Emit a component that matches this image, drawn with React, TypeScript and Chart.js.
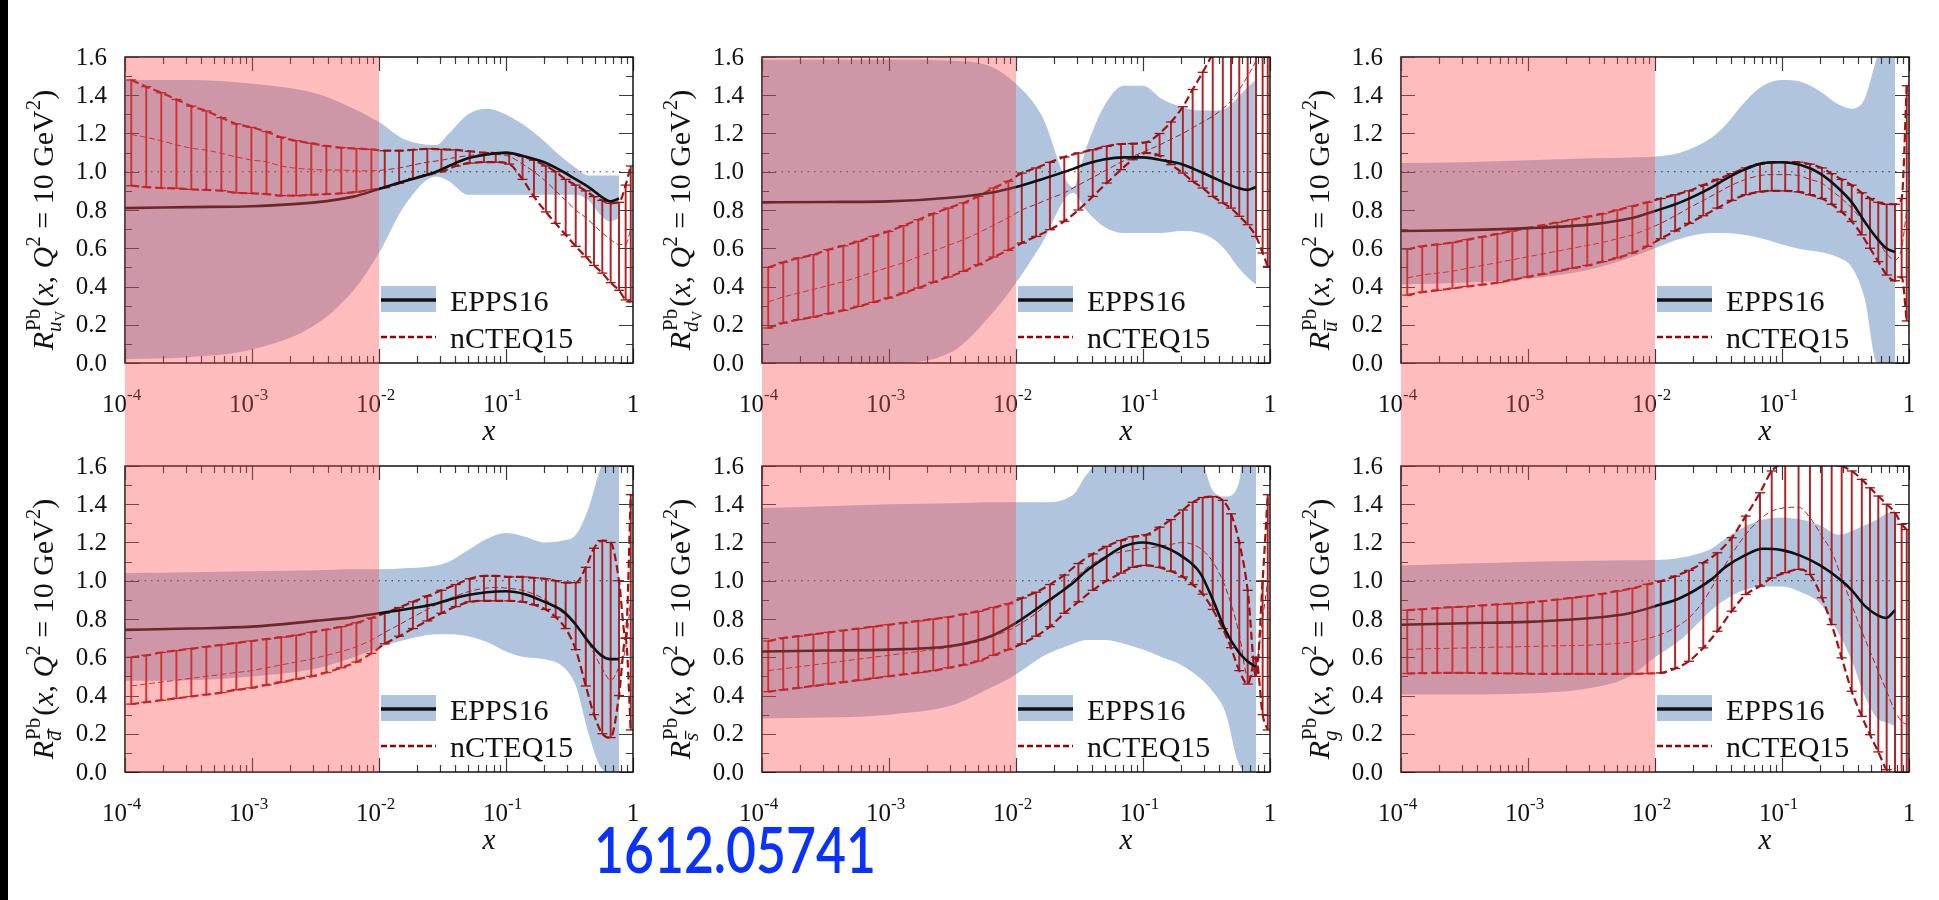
import React, { useEffect, useRef } from "react";
import { Chart, registerables } from "chart.js";
Chart.register(...registerables);

// ---------- x grids ----------
const hatchX = [1.12e-4, 1.47e-4, 1.93e-4, 2.54e-4, 3.33e-4, 4.37e-4, 5.74e-4, 7.53e-4, 9.89e-4, 1.3e-3, 1.7e-3, 2.23e-3, 2.93e-3, 3.85e-3, 5.05e-3, 6.64e-3, 8.71e-3, 0.0111, 0.0144, 0.0185, 0.024, 0.031, 0.0402, 0.0518, 0.0671, 0.083, 0.106, 0.135, 0.166, 0.206, 0.246, 0.295, 0.354, 0.425, 0.493, 0.573, 0.667, 0.776, 0.875, 0.96];
const eppsX = [1e-4, 3.16e-4, 1e-3, 3.16e-3, 6.31e-3, 0.01, 0.0158, 0.0282, 0.0355, 0.0501, 0.0708, 0.1, 0.141, 0.2, 0.282, 0.355, 0.447, 0.562, 0.661, 0.776];
const unityX = [1e-4, 0.8];
const unityY = [1, 1];
const yTickValues = [0, 0.2, 0.4, 0.6, 0.8, 1.0, 1.2, 1.4, 1.6];
const xDecades = [-4, -3, -2, -1, 0];

// ---------- panel 1: u_V ----------
const uvEppsHi = [1.48, 1.48, 1.46, 1.41, 1.33, 1.26, 1.17, 1.14, 1.2, 1.3, 1.33, 1.3, 1.24, 1.16, 1.07, 1.02, 0.98, 0.98, 0.98, 0.98];
const uvEppsLo = [0.02, 0.03, 0.07, 0.2, 0.38, 0.575, 0.82, 0.975, 0.95, 0.88, 0.88, 0.88, 0.88, 0.88, 0.88, 0.88, 0.85, 0.77, 0.74, 0.76];
const uvEppsMid = [0.81, 0.815, 0.82, 0.84, 0.87, 0.91, 0.95, 1.0, 1.03, 1.07, 1.09, 1.1, 1.08, 1.05, 1.0, 0.96, 0.92, 0.87, 0.845, 0.86];
const uvNcHi = [1.48, 1.445, 1.413, 1.378, 1.343, 1.318, 1.283, 1.25, 1.232, 1.21, 1.18, 1.162, 1.149, 1.135, 1.126, 1.121, 1.117, 1.11, 1.11, 1.115, 1.12, 1.117, 1.114, 1.107, 1.1, 1.098, 1.095, 1.08, 1.06, 1.03, 1.0, 0.96, 0.93, 0.9, 0.87, 0.85, 0.835, 0.84, 0.93, 1.03];
const uvNcLo = [0.927, 0.92, 0.915, 0.913, 0.908, 0.905, 0.901, 0.89, 0.887, 0.883, 0.875, 0.875, 0.879, 0.883, 0.887, 0.894, 0.905, 0.917, 0.94, 0.965, 0.985, 1.0, 1.03, 1.045, 1.05, 1.05, 1.04, 0.96, 0.87, 0.79, 0.73, 0.67, 0.61, 0.555, 0.51, 0.47, 0.42, 0.38, 0.33, 0.32];
const uvNcMid = [1.195, 1.18, 1.162, 1.141, 1.123, 1.113, 1.096, 1.078, 1.061, 1.052, 1.03, 1.018, 1.013, 1.009, 1.009, 1.005, 1.005, 1.01, 1.02, 1.035, 1.05, 1.06, 1.075, 1.085, 1.09, 1.09, 1.08, 1.04, 1.0, 0.95, 0.9, 0.85, 0.8, 0.76, 0.72, 0.68, 0.645, 0.62, 0.62, 0.7];

// ---------- panel 2: d_V ----------
const dvEppsHi = [1.585, 1.585, 1.585, 1.58, 1.55, 1.46, 1.3, 0.92, 1.12, 1.35, 1.45, 1.45, 1.38, 1.34, 1.32, 1.32, 1.33, 1.39, 1.44, 1.48];
const dvEppsLo = [0, 0, 0, 0.06, 0.25, 0.42, 0.62, 0.89, 0.8, 0.71, 0.68, 0.68, 0.68, 0.69, 0.68, 0.65, 0.59, 0.5, 0.45, 0.41];
const dvEppsMid = [0.84, 0.842, 0.845, 0.865, 0.89, 0.92, 0.96, 1.015, 1.04, 1.065, 1.075, 1.075, 1.06, 1.04, 1.0, 0.97, 0.94, 0.915, 0.905, 0.92];
const dvNcHi = [0.5, 0.526, 0.549, 0.566, 0.593, 0.613, 0.636, 0.662, 0.688, 0.718, 0.749, 0.781, 0.81, 0.837, 0.871, 0.915, 0.95, 0.993, 1.02, 1.049, 1.077, 1.098, 1.115, 1.133, 1.145, 1.147, 1.154, 1.2, 1.26, 1.34, 1.43, 1.52, 1.62, 1.75, 1.9, 2.1, 2.3, 2.5, 2.7, 2.8];
const dvNcLo = [0.183, 0.209, 0.227, 0.24, 0.258, 0.275, 0.296, 0.317, 0.34, 0.366, 0.392, 0.422, 0.45, 0.479, 0.514, 0.554, 0.589, 0.627, 0.662, 0.697, 0.741, 0.8, 0.871, 0.941, 1.011, 1.063, 1.098, 1.084, 1.037, 0.993, 0.95, 0.915, 0.871, 0.837, 0.81, 0.767, 0.723, 0.662, 0.575, 0.505];
const dvNcMid = [0.32, 0.345, 0.365, 0.385, 0.405, 0.425, 0.45, 0.475, 0.5, 0.525, 0.555, 0.585, 0.615, 0.645, 0.68, 0.72, 0.76, 0.8, 0.83, 0.86, 0.89, 0.93, 0.97, 1.01, 1.05, 1.08, 1.11, 1.14, 1.17, 1.2, 1.23, 1.26, 1.29, 1.33, 1.37, 1.43, 1.5, 1.58, 1.66, 1.75];

// ---------- panel 3: u-bar ----------
const ubEppsHi = [1.046, 1.05, 1.06, 1.07, 1.075, 1.08, 1.1, 1.18, 1.24, 1.36, 1.45, 1.48, 1.47, 1.42, 1.35, 1.33, 1.38, 1.6, 1.7, 1.75];
const ubEppsLo = [0.41, 0.42, 0.44, 0.49, 0.55, 0.6, 0.65, 0.68, 0.68, 0.67, 0.65, 0.62, 0.595, 0.58, 0.55, 0.5, 0.34, 0.0, 0.0, 0.0];
const ubEppsMid = [0.69, 0.695, 0.705, 0.725, 0.755, 0.795, 0.84, 0.92, 0.96, 1.01, 1.045, 1.05, 1.035, 0.99, 0.91, 0.84, 0.74, 0.65, 0.6, 0.58];
const ubNcHi = [0.595, 0.61, 0.62, 0.63, 0.645, 0.66, 0.675, 0.69, 0.705, 0.72, 0.735, 0.75, 0.765, 0.78, 0.8, 0.82, 0.84, 0.86, 0.88, 0.9, 0.93, 0.96, 0.99, 1.02, 1.04, 1.05, 1.05, 1.05, 1.04, 1.02, 0.99, 0.96, 0.93, 0.89, 0.86, 0.84, 0.83, 0.83, 0.86, 1.45];
const ubNcLo = [0.355, 0.37, 0.38, 0.39, 0.4, 0.41, 0.42, 0.435, 0.45, 0.465, 0.48, 0.495, 0.51, 0.53, 0.55, 0.575, 0.61, 0.65, 0.69, 0.73, 0.77, 0.81, 0.85, 0.88, 0.895, 0.9, 0.9, 0.895, 0.88, 0.86, 0.83, 0.79, 0.74, 0.67, 0.6, 0.53, 0.46, 0.43, 0.45, 0.22];
const ubNcMid = [0.445, 0.46, 0.47, 0.48, 0.495, 0.51, 0.525, 0.54, 0.555, 0.57, 0.585, 0.6, 0.615, 0.63, 0.65, 0.67, 0.7, 0.73, 0.77, 0.81, 0.85, 0.89, 0.93, 0.96, 0.98, 0.985, 0.985, 0.98, 0.96, 0.94, 0.9, 0.86, 0.81, 0.75, 0.7, 0.64, 0.57, 0.54, 0.6, 0.8];

// ---------- panel 4: d-bar ----------
const dbEppsHi = [1.04, 1.045, 1.05, 1.055, 1.06, 1.06, 1.065, 1.08, 1.1, 1.16, 1.22, 1.25, 1.23, 1.2, 1.21, 1.24, 1.38, 1.6, 1.7, 1.75];
const dbEppsLo = [0.477, 0.48, 0.5, 0.54, 0.6, 0.65, 0.69, 0.72, 0.72, 0.71, 0.68, 0.63, 0.6, 0.59, 0.55, 0.45, 0.2, 0.02, 0.0, 0.0];
const dbEppsMid = [0.743, 0.75, 0.76, 0.79, 0.81, 0.83, 0.85, 0.88, 0.9, 0.925, 0.94, 0.945, 0.93, 0.89, 0.84, 0.77, 0.68, 0.61, 0.59, 0.59];
const dbNcHi = [0.6, 0.61, 0.625, 0.635, 0.645, 0.655, 0.665, 0.675, 0.685, 0.695, 0.705, 0.715, 0.73, 0.745, 0.76, 0.78, 0.805, 0.83, 0.86, 0.89, 0.92, 0.95, 0.98, 1.01, 1.025, 1.025, 1.02, 1.02, 1.015, 1.01, 1.0, 0.99, 0.99, 1.07, 1.17, 1.21, 1.2, 1.0, 0.7, 1.45];
const dbNcLo = [0.355, 0.365, 0.375, 0.385, 0.395, 0.405, 0.415, 0.43, 0.44, 0.455, 0.47, 0.485, 0.5, 0.52, 0.545, 0.575, 0.62, 0.67, 0.71, 0.75, 0.79, 0.83, 0.865, 0.89, 0.895, 0.895, 0.895, 0.89, 0.875, 0.85, 0.81, 0.75, 0.64, 0.45, 0.3, 0.2, 0.18, 0.4, 0.7, 0.22];
const dbNcMid = [0.45, 0.46, 0.47, 0.48, 0.49, 0.5, 0.51, 0.52, 0.53, 0.545, 0.56, 0.575, 0.59, 0.61, 0.63, 0.655, 0.69, 0.73, 0.77, 0.81, 0.85, 0.89, 0.92, 0.945, 0.96, 0.965, 0.96, 0.95, 0.93, 0.9, 0.86, 0.82, 0.77, 0.7, 0.62, 0.54, 0.48, 0.55, 0.65, 0.9];

// ---------- panel 5: s-bar ----------
const sbEppsHi = [1.38, 1.39, 1.4, 1.405, 1.41, 1.41, 1.41, 1.45, 1.55, 1.65, 1.7, 1.7, 1.7, 1.7, 1.65, 1.47, 1.44, 1.5, 1.75, 1.75];
const sbEppsLo = [0.28, 0.285, 0.3, 0.35, 0.44, 0.51, 0.6, 0.67, 0.69, 0.69, 0.67, 0.64, 0.6, 0.56, 0.49, 0.42, 0.31, 0.05, 0.0, 0.0];
const sbEppsMid = [0.63, 0.635, 0.64, 0.66, 0.71, 0.78, 0.87, 0.99, 1.05, 1.12, 1.18, 1.2, 1.18, 1.13, 1.04, 0.9, 0.74, 0.63, 0.58, 0.55];
const sbNcHi = [0.685, 0.7, 0.71, 0.72, 0.73, 0.74, 0.75, 0.76, 0.77, 0.78, 0.79, 0.8, 0.81, 0.825, 0.84, 0.86, 0.88, 0.91, 0.94, 0.98, 1.03, 1.09, 1.14, 1.18, 1.21, 1.23, 1.24, 1.28, 1.32, 1.37, 1.41, 1.435, 1.44, 1.42, 1.35, 1.2, 0.95, 0.5, 1.0, 1.45];
const sbNcLo = [0.42, 0.43, 0.44, 0.45, 0.46, 0.47, 0.48, 0.49, 0.5, 0.51, 0.52, 0.53, 0.545, 0.56, 0.58, 0.61, 0.64, 0.67, 0.71, 0.76, 0.83, 0.89, 0.95, 1.0, 1.04, 1.07, 1.08, 1.07, 1.05, 1.02, 0.98, 0.93, 0.85, 0.75, 0.65, 0.53, 0.46, 0.6, 0.3, 0.22];
const sbNcMid = [0.53, 0.54, 0.55, 0.56, 0.57, 0.58, 0.59, 0.6, 0.61, 0.62, 0.63, 0.64, 0.65, 0.665, 0.68, 0.71, 0.74, 0.78, 0.83, 0.89, 0.96, 1.03, 1.09, 1.13, 1.15, 1.16, 1.17, 1.18, 1.19, 1.2, 1.19, 1.16, 1.1, 1.0, 0.88, 0.72, 0.5, 0.55, 0.8, 1.0];

// ---------- panel 6: gluon ----------
const gEppsHi = [1.08, 1.09, 1.1, 1.105, 1.107, 1.108, 1.12, 1.17, 1.22, 1.28, 1.32, 1.33, 1.32, 1.29, 1.24, 1.26, 1.29, 1.32, 1.35, 1.37];
const gEppsLo = [0.405, 0.405, 0.41, 0.44, 0.5, 0.6, 0.69, 0.85, 0.9, 0.95, 0.97, 0.97, 0.94, 0.88, 0.72, 0.58, 0.4, 0.28, 0.26, 0.24];
const gEppsMid = [0.77, 0.778, 0.785, 0.805, 0.83, 0.867, 0.91, 1.01, 1.07, 1.13, 1.167, 1.16, 1.13, 1.08, 1.01, 0.95, 0.87, 0.82, 0.805, 0.846];
const gNcHi = [0.846, 0.851, 0.857, 0.862, 0.865, 0.871, 0.876, 0.881, 0.886, 0.893, 0.902, 0.911, 0.92, 0.932, 0.946, 0.96, 0.981, 0.998, 1.024, 1.054, 1.094, 1.146, 1.225, 1.338, 1.46, 1.574, 1.62, 1.64, 1.64, 1.63, 1.62, 1.6, 1.574, 1.53, 1.486, 1.443, 1.4, 1.356, 1.295, 1.268];
const gNcLo = [0.515, 0.517, 0.518, 0.518, 0.518, 0.517, 0.516, 0.515, 0.514, 0.513, 0.513, 0.513, 0.513, 0.513, 0.513, 0.513, 0.515, 0.518, 0.541, 0.579, 0.649, 0.736, 0.841, 0.928, 0.972, 1.015, 1.042, 1.059, 1.033, 0.911, 0.771, 0.597, 0.422, 0.291, 0.195, 0.105, 0.012, -0.01, -0.01, -0.01];
const gNcMid = [0.64, 0.644, 0.646, 0.647, 0.649, 0.651, 0.653, 0.654, 0.656, 0.658, 0.66, 0.661, 0.663, 0.667, 0.672, 0.68, 0.698, 0.719, 0.754, 0.806, 0.893, 1.015, 1.138, 1.242, 1.321, 1.364, 1.382, 1.385, 1.33, 1.234, 1.152, 1.015, 0.876, 0.736, 0.632, 0.527, 0.422, 0.318, 0.265, 0.248];

// ---------- styling ----------
const FONT = "'Liberation Serif', 'DejaVu Serif', serif";
const BLUE = "rgb(176,196,222)";
const RED = "rgb(158,18,18)";
const RED_H = "rgb(178,34,34)";
const PINK = "rgba(255,80,80,0.38)";
const PLOT_W = 508;
const PLOT_LEFTS = [125, 762, 1401];
const CANVAS_W = 660;
const PAD_LEFT = 125;
const ROWS = [
  { top: 0, h: 445, padTop: 57, padBottom: 82 },
  { top: 445, h: 455, padTop: 21, padBottom: 128 },
];

type Sub = { base: string; bar: boolean; v: boolean };
type Spec = {
  row: number; col: number; sub: Sub;
  eHi: number[]; eLo: number[]; eMid: number[];
  nHi: number[]; nLo: number[]; nMid: number[];
};

const PANELS: Spec[] = [
  { row: 0, col: 0, sub: { base: "u", bar: false, v: true }, eHi: uvEppsHi, eLo: uvEppsLo, eMid: uvEppsMid, nHi: uvNcHi, nLo: uvNcLo, nMid: uvNcMid },
  { row: 0, col: 1, sub: { base: "d", bar: false, v: true }, eHi: dvEppsHi, eLo: dvEppsLo, eMid: dvEppsMid, nHi: dvNcHi, nLo: dvNcLo, nMid: dvNcMid },
  { row: 0, col: 2, sub: { base: "u", bar: true, v: false }, eHi: ubEppsHi, eLo: ubEppsLo, eMid: ubEppsMid, nHi: ubNcHi, nLo: ubNcLo, nMid: ubNcMid },
  { row: 1, col: 0, sub: { base: "d", bar: true, v: false }, eHi: dbEppsHi, eLo: dbEppsLo, eMid: dbEppsMid, nHi: dbNcHi, nLo: dbNcLo, nMid: dbNcMid },
  { row: 1, col: 1, sub: { base: "s", bar: true, v: false }, eHi: sbEppsHi, eLo: sbEppsLo, eMid: sbEppsMid, nHi: sbNcHi, nLo: sbNcLo, nMid: sbNcMid },
  { row: 1, col: 2, sub: { base: "g", bar: false, v: false }, eHi: gEppsHi, eLo: gEppsLo, eMid: gEppsMid, nHi: gNcHi, nLo: gNcLo, nMid: gNcMid },
];

const pts = (xs: number[], ys: number[]) => xs.map((x, i) => ({ x, y: ys[i] }));

function drawYTitle(ctx: CanvasRenderingContext2D, baseX: number, centerY: number, sub: Sub) {
  const S = 30, s = 21, ss = 15;
  const it = (px: number) => `italic ${px}px ${FONT}`;
  const rm = (px: number) => `${px}px ${FONT}`;
  const w = (t: string, f: string) => { ctx.font = f; return ctx.measureText(t).width; };
  const wR = w("R", it(S));
  const wPb = w("Pb", rm(s));
  const wBase = w(sub.base, it(s));
  const wV = sub.v ? w("V", rm(ss)) : 0;
  const wSub = wBase + wV;
  const tail: [string, string, number][] = [
    ["(", rm(S), 0], ["x", it(S), 0], [", ", rm(S), 0], ["Q", it(S), 0], ["2", rm(s), -13],
    [" = 10 ", rm(S), 0], ["GeV", rm(S), 0], ["2", rm(s), -13], [")", rm(S), 0],
  ];
  let total = wR + Math.max(wPb, wSub) + 3;
  for (const [t, f] of tail) total += w(t, f);
  ctx.save();
  ctx.translate(baseX, centerY);
  ctx.rotate(-Math.PI / 2);
  ctx.fillStyle = "#111";
  ctx.textAlign = "left";
  ctx.textBaseline = "alphabetic";
  let x = -total / 2;
  ctx.font = it(S); ctx.fillText("R", x, 0); x += wR;
  ctx.font = rm(s); ctx.fillText("Pb", x + 1, -13);
  ctx.font = it(s); ctx.fillText(sub.base, x, 8);
  if (sub.bar) ctx.fillRect(x + 2, 8 - s * 0.62, wBase, 1.3);
  if (sub.v) { ctx.font = rm(ss); ctx.fillText("V", x + wBase, 12); }
  x += Math.max(wPb, wSub) + 3;
  for (const [t, f, dy] of tail) { ctx.font = f; ctx.fillText(t, x, dy); x += w(t, f); }
  ctx.restore();
}

function decorPlugin(spec: Spec) {
  return {
    id: "decor",
    afterDraw(chart: any) {
      const ctx: CanvasRenderingContext2D = chart.ctx;
      const xs = chart.scales.x, ys = chart.scales.y;
      const { left, right, top, bottom } = chart.chartArea;
      ctx.save();
      // ticks
      ctx.strokeStyle = "#3a3a3a";
      ctx.lineWidth = 1.2;
      ctx.beginPath();
      for (const d of xDecades) {
        for (let m = 1; m <= 9; m++) {
          const v = m * Math.pow(10, d);
          if (v > 1.0001) break;
          const px = Math.round(xs.getPixelForValue(v)) + 0.5;
          const len = m === 1 ? 14 : 7;
          ctx.moveTo(px, bottom); ctx.lineTo(px, bottom - len);
          ctx.moveTo(px, top); ctx.lineTo(px, top + len);
        }
      }
      for (let k = 0; k <= 16; k++) {
        const py = Math.round(ys.getPixelForValue(k * 0.1)) + 0.5;
        const len = k % 2 === 0 ? 14 : 7;
        ctx.moveTo(left, py); ctx.lineTo(left + len, py);
        ctx.moveTo(right, py); ctx.lineTo(right - len, py);
      }
      ctx.stroke();
      // frame
      ctx.strokeStyle = "#111";
      ctx.lineWidth = 1.5;
      ctx.strokeRect(left, top, right - left, bottom - top);
      // y labels
      ctx.fillStyle = "#111";
      ctx.font = `25px ${FONT}`;
      ctx.textAlign = "right";
      ctx.textBaseline = "middle";
      for (const v of yTickValues) ctx.fillText(v.toFixed(1), left - 18, ys.getPixelForValue(v) + 1);
      // x labels
      ctx.textBaseline = "alphabetic";
      for (const d of xDecades) {
        const px = xs.getPixelForValue(Math.pow(10, d));
        if (d === 0) {
          ctx.font = `25px ${FONT}`; ctx.textAlign = "center";
          ctx.fillText("1", px, bottom + 49);
        } else {
          ctx.font = `25px ${FONT}`; ctx.textAlign = "right";
          ctx.fillText("10", px + 2, bottom + 49);
          ctx.font = `17px ${FONT}`; ctx.textAlign = "left";
          ctx.fillText(String(d), px + 2, bottom + 37);
        }
      }
      // x title
      ctx.font = `italic 29px ${FONT}`; ctx.textAlign = "center";
      ctx.fillText("x", left + 364, bottom + 77);
      // y title
      drawYTitle(ctx, left - 72, top + 163, spec.sub);
      // legend
      const lx = left + 256, ly = top + 229;
      ctx.fillStyle = BLUE;
      ctx.fillRect(lx, ly, 55, 26);
      ctx.strokeStyle = "#111"; ctx.lineWidth = 3.5;
      ctx.beginPath(); ctx.moveTo(lx, ly + 14); ctx.lineTo(lx + 55, ly + 14); ctx.stroke();
      ctx.strokeStyle = "rgb(150,0,0)"; ctx.lineWidth = 2.6; ctx.setLineDash([6, 3]);
      ctx.beginPath(); ctx.moveTo(lx, ly + 51); ctx.lineTo(lx + 55, ly + 51); ctx.stroke();
      ctx.setLineDash([]);
      ctx.fillStyle = "#111"; ctx.font = `30px ${FONT}`; ctx.textAlign = "left";
      ctx.fillText("EPPS16", lx + 69, ly + 25);
      ctx.fillText("nCTEQ15", lx + 69, ly + 62);
      // pink x < 0.01 region
      const px0 = xs.getPixelForValue(1e-4), px1 = xs.getPixelForValue(1e-2);
      ctx.fillStyle = PINK;
      if (spec.row === 0) ctx.fillRect(px0, top, px1 - px0, chart.height - top);
      else ctx.fillRect(px0, 0, px1 - px0, bottom);
      ctx.restore();
    },
  };
}

function Panel({ spec }: { spec: Spec }) {
  const ref = useRef<HTMLCanvasElement>(null);
  const row = ROWS[spec.row];
  useEffect(() => {
    const datasets: any[] = [
      { type: "line", data: pts(eppsX, spec.eHi), borderWidth: 0, pointRadius: 0, fill: "+1", backgroundColor: BLUE, order: 10, cubicInterpolationMode: "monotone" },
      { type: "line", data: pts(eppsX, spec.eLo), borderWidth: 0, pointRadius: 0, fill: false, order: 10, cubicInterpolationMode: "monotone" },
      { type: "line", data: pts(unityX, unityY), borderColor: "#333", borderWidth: 1.2, borderDash: [1.5, 5], pointRadius: 0, fill: false, order: 9 },
      { type: "bar", data: hatchX.map((x, i) => ({ x, y: [spec.nLo[i], spec.nHi[i]] })), backgroundColor: RED_H, borderWidth: 0, barThickness: 1.3, order: 8 },
      { type: "line", data: pts(hatchX, spec.nHi), borderColor: RED, borderWidth: 2.2, borderDash: [8, 4], pointStyle: "line", pointRadius: 5, pointBorderColor: RED, pointBorderWidth: 1.3, fill: false, order: 7, cubicInterpolationMode: "monotone" },
      { type: "line", data: pts(hatchX, spec.nLo), borderColor: RED, borderWidth: 2.2, borderDash: [8, 4], pointStyle: "line", pointRadius: 5, pointBorderColor: RED, pointBorderWidth: 1.3, fill: false, order: 7, cubicInterpolationMode: "monotone" },
      { type: "line", data: pts(hatchX, spec.nMid), borderColor: RED_H, borderWidth: 1, borderDash: [6, 3], pointRadius: 0, fill: false, order: 7, cubicInterpolationMode: "monotone" },
      { type: "line", data: pts(eppsX, spec.eMid), borderColor: "#111", borderWidth: 2.6, pointRadius: 0, fill: false, order: 1, cubicInterpolationMode: "monotone" },
    ];
    const chart = new Chart(ref.current as HTMLCanvasElement, {
      type: "line",
      data: { datasets },
      options: {
        responsive: false,
        maintainAspectRatio: false,
        animation: false,
        events: [],
        layout: { padding: { left: PAD_LEFT, right: CANVAS_W - PAD_LEFT - PLOT_W, top: row.padTop, bottom: row.padBottom } },
        scales: {
          x: { type: "logarithmic", min: 1e-4, max: 1, display: false, offset: false },
          y: { type: "linear", min: 0, max: 1.6, display: false, offset: false },
        },
        plugins: { legend: { display: false }, tooltip: { enabled: false } },
      } as any,
      plugins: [decorPlugin(spec)],
    });
    let alive = true;
    const fonts: any = (document as any).fonts;
    if (fonts && fonts.load) {
      Promise.all([
        fonts.load(`25px 'Liberation Serif'`),
        fonts.load(`italic 25px 'Liberation Serif'`),
      ]).then(() => { if (alive) chart.draw(); }).catch(() => {});
      fonts.ready.then(() => { if (alive) chart.draw(); });
    }
    return () => { alive = false; chart.destroy(); };
  }, []);
  return (
    <canvas
      ref={ref}
      width={CANVAS_W}
      height={row.h}
      style={{ position: "absolute", left: PLOT_LEFTS[spec.col] - PAD_LEFT, top: row.top, width: CANVAS_W, height: row.h }}
    />
  );
}

export default function App() {
  return (
    <div style={{ position: "absolute", left: 0, top: 0, width: 1939, height: 900, background: "#fff", overflow: "hidden" }}>
      <span style={{ position: "absolute", left: -100, top: -100, fontFamily: "'Liberation Serif'", visibility: "hidden" }}>
        x <i>x</i>
      </span>
      {PANELS.map((p, i) => <Panel key={i} spec={p} />)}
      <div style={{ position: "absolute", left: 0, top: 0, width: 8, height: 900, background: "#000" }} />
      <div
        style={{
          position: "absolute", left: 594, top: 817, fontFamily: "Lato, 'Open Sans', sans-serif", fontSize: 63, fontWeight: 600,
          lineHeight: "63px", color: "rgb(10,50,255)", whiteSpace: "nowrap", transform: "scaleX(0.82)", transformOrigin: "left top",
        }}
      >
        1612.05741
      </div>
    </div>
  );
}
